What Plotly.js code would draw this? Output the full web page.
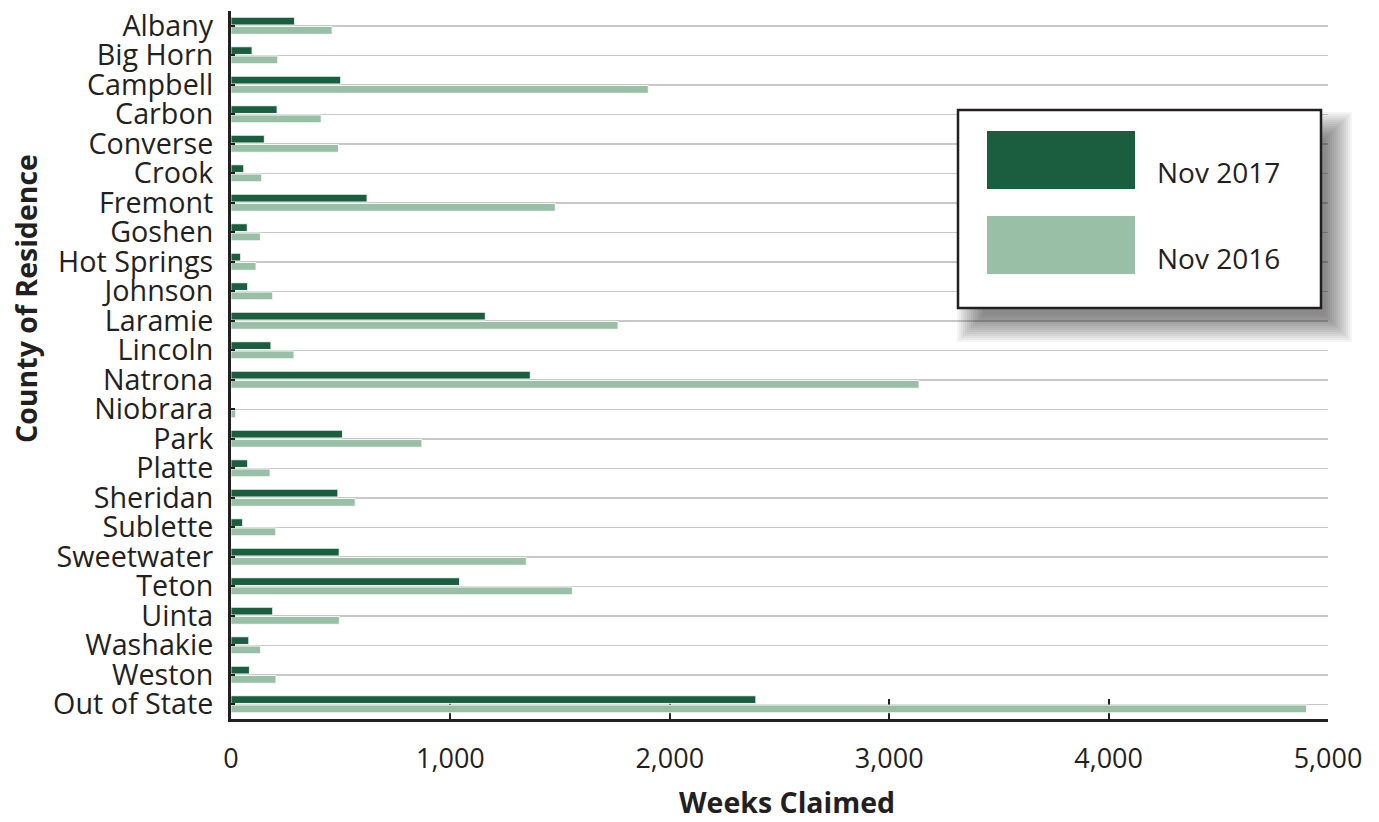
<!DOCTYPE html>
<html>
<head>
<meta charset="utf-8">
<script src="https://cdn.plot.ly/plotly-3.0.1.min.js"></script>
<style>html,body{margin:0;padding:0;background:#fff;}#chart{width:1379px;height:822px;}</style>
</head>
<body>
<div id="chart"></div>
<script>
const counties = ["Albany","Big Horn","Campbell","Carbon","Converse","Crook","Fremont","Goshen","Hot Springs","Johnson","Laramie","Lincoln","Natrona","Niobrara","Park","Platte","Sheridan","Sublette","Sweetwater","Teton","Uinta","Washakie","Weston","Out of State"];
const nov2017 = [290,96,500,210,152,58,620,74,44,76,1159,182,1364,0,508,76,487,53,493,1042,190,81,84,2392];
const nov2016 = [461,213,1902,411,490,140,1478,134,114,190,1764,287,3136,21,870,178,566,204,1346,1556,494,135,205,4902];
const seriesNames = ["Nov 2017","Nov 2016"];
const xTicks = [0,1000,2000,3000,4000,5000];
const xTitle = "Weeks Claimed";
const yTitle = "County of Residence";

const dark = "#1b5e3f", light = "#99bfa6", ink = "#231f20";
const FONT = "Open Sans";
const W = 1379, H = 822, ML = 231, MR = 51, MT = 11, MB = 103;
const PW = W - ML - MR, PH = H - MT - MB;
const px = v => (v - ML) / PW;
const py = v => (H - MB - v) / PH;

const traces = [
  {type:"bar", orientation:"h", name:seriesNames[0], y:counties, x:nov2017,
   marker:{color:dark, line:{color:"rgba(255,255,255,0.85)", width:1}}},
  {type:"bar", orientation:"h", name:seriesNames[1], y:counties, x:nov2016,
   marker:{color:light, line:{color:"rgba(255,255,255,0.85)", width:1}}}
];

// custom legend box with drop shadow
const bx0 = 958, bx1 = 1321, by0 = 110, by1 = 308, dx = 15, dy = 18;
const shapes = [];
for (let k = 0; k < 14; k++) {
  const e = -10 + 2 * k;
  shapes.push({type:"rect", xref:"paper", yref:"paper",
    x0:px(bx0 + dx - e), x1:px(bx1 + dx + e), y0:py(by1 + dy + e), y1:py(by0 + dy - e),
    fillcolor:"rgba(30,35,40,0.05)", line:{width:0}});
}
shapes.push({type:"rect", xref:"paper", yref:"paper", x0:px(bx0), x1:px(bx1), y0:py(by1), y1:py(by0),
  fillcolor:"#ffffff", line:{color:ink, width:2.5}});
shapes.push({type:"rect", xref:"paper", yref:"paper", x0:px(987), x1:px(1135), y0:py(189), y1:py(131),
  fillcolor:dark, line:{width:0}});
shapes.push({type:"rect", xref:"paper", yref:"paper", x0:px(987), x1:px(1135), y0:py(274), y1:py(216),
  fillcolor:light, line:{width:0}});
const annotations = [
  {xref:"paper", yref:"paper", x:px(1155), y:py(172), xanchor:"left", yanchor:"middle", showarrow:false,
   text:seriesNames[0], font:{family:FONT, size:28, color:ink}},
  {xref:"paper", yref:"paper", x:px(1155), y:py(258), xanchor:"left", yanchor:"middle", showarrow:false,
   text:seriesNames[1], font:{family:FONT, size:28, color:ink}},
  {xref:"paper", yref:"paper", x:px(26), y:py(299), xanchor:"center", yanchor:"middle", showarrow:false,
   textangle:-90, text:"<b>" + yTitle + "</b>", font:{family:FONT, size:28.5, color:ink}},
  {xref:"paper", yref:"paper", x:px(787), y:py(802), xanchor:"center", yanchor:"middle", showarrow:false,
   text:"<b>" + xTitle + "</b>", font:{family:FONT, size:28.5, color:ink}}
];

const layout = {
  width:W, height:H, margin:{l:ML, r:MR, t:MT, b:MB, pad:0},
  paper_bgcolor:"#fff", plot_bgcolor:"#fff",
  barmode:"group", bargap:0.37, bargroupgap:0.17,
  showlegend:false,
  font:{family:FONT, color:ink},
  xaxis:{range:[0,5000], tickvals:xTicks, tickformat:",", showgrid:false, zeroline:false,
    showline:true, linecolor:ink, linewidth:3, ticks:"inside", ticklen:20, tickwidth:2, tickcolor:ink,
    layer:"below traces", tickfont:{family:FONT, size:27, color:ink}, ticklabelstandoff:14},
  yaxis:{type:"category", autorange:"reversed", tickmode:"array", tickvals:counties, ticktext:counties,
    showgrid:true, gridcolor:"#c8c8c8", gridwidth:1.5,
    showline:true, linecolor:ink, linewidth:3, ticks:"inside", ticklen:4, tickwidth:2, tickcolor:ink,
    tickfont:{family:FONT, size:28.7, color:ink}, ticklabelstandoff:9},
  shapes:shapes, annotations:annotations
};
Plotly.newPlot("chart", traces, layout, {displayModeBar:false, staticPlot:true});
</script>
</body>
</html>
